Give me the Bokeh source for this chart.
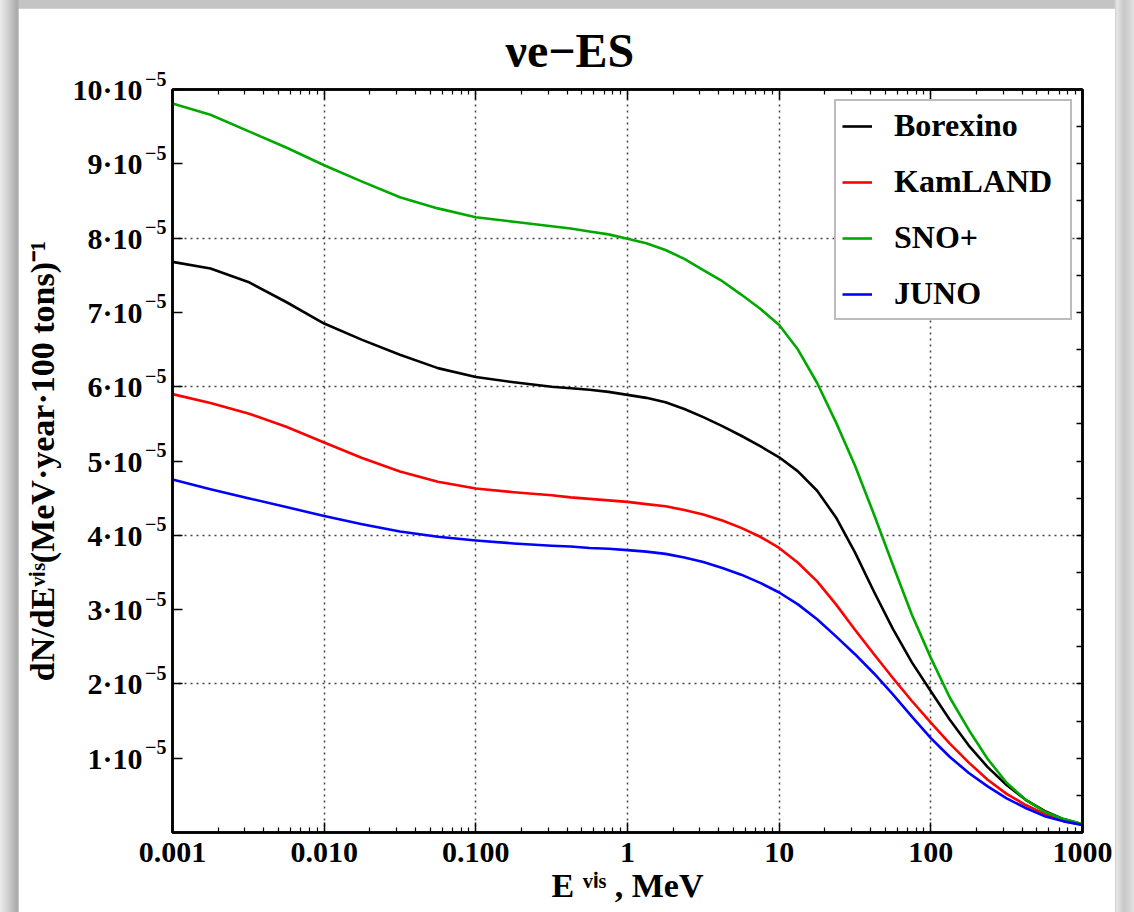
from bokeh.plotting import figure
from bokeh.models import (LogAxis, LinearAxis, FixedTicker, Legend, LegendItem,
                          Range1d)
from bokeh.layouts import column
from bokeh.embed import file_html
from bokeh.resources import INLINE

# Visible energy, MeV (log-spaced sample points)
energy_mev = [0.001, 0.00178, 0.00316, 0.00562, 0.01, 0.0178, 0.0316, 0.0562,
              0.1, 0.178, 0.316, 0.422, 0.562, 0.750, 1.0, 1.33, 1.78, 2.37,
              3.16, 4.22, 5.62, 7.50, 10.0, 13.3, 17.8, 23.7, 31.6, 42.2,
              56.2, 75.0, 100.0, 133.0, 178.0, 237.0, 316.0, 422.0, 562.0,
              750.0, 1000.0]

# Spectra in units of 1e-5 (MeV * year * 100 tons)^-1
Y_UNIT = 1e-5
borexino = [7.68, 7.59, 7.41, 7.14, 6.85, 6.63, 6.43, 6.25, 6.13, 6.06, 6.00,
            5.98, 5.96, 5.93, 5.89, 5.85, 5.79, 5.70, 5.59, 5.47, 5.34, 5.20,
            5.05, 4.86, 4.60, 4.24, 3.77, 3.24, 2.74, 2.29, 1.90, 1.52, 1.17,
            0.88, 0.64, 0.44, 0.29, 0.18, 0.11]
kamland = [5.90, 5.78, 5.64, 5.46, 5.25, 5.04, 4.86, 4.72, 4.63, 4.58, 4.54,
           4.51, 4.49, 4.47, 4.45, 4.42, 4.39, 4.34, 4.28, 4.20, 4.10, 3.98,
           3.83, 3.63, 3.38, 3.07, 2.73, 2.40, 2.08, 1.77, 1.48, 1.20, 0.94,
           0.71, 0.52, 0.37, 0.25, 0.16, 0.10]
sno_plus = [9.81, 9.66, 9.44, 9.22, 8.98, 8.76, 8.55, 8.40, 8.28, 8.22, 8.16,
            8.13, 8.09, 8.05, 7.99, 7.93, 7.84, 7.72, 7.57, 7.42, 7.24, 7.05,
            6.83, 6.50, 6.05, 5.52, 4.94, 4.28, 3.60, 2.93, 2.35, 1.82, 1.38,
            0.99, 0.67, 0.44, 0.28, 0.18, 0.11]
juno = [4.75, 4.62, 4.50, 4.38, 4.26, 4.15, 4.05, 3.98, 3.93, 3.89, 3.86,
        3.85, 3.83, 3.82, 3.80, 3.78, 3.75, 3.70, 3.64, 3.56, 3.47, 3.36,
        3.23, 3.07, 2.87, 2.64, 2.40, 2.14, 1.86, 1.56, 1.27, 1.02, 0.80,
        0.62, 0.46, 0.33, 0.22, 0.15, 0.10]

series_names = ["Borexino", "KamLAND", "SNO+", "JUNO"]
series_values = [borexino, kamland, sno_plus, juno]
series_colors = ["#000000", "#ff0000", "#00a800", "#0000ff"]

# Tick positions and labels
x_ticks = [0.001, 0.01, 0.1, 1.0, 10.0, 100.0, 1000.0]
x_tick_labels = ["0.001", "0.010", "0.100", "1", "10", "100", "1000"]
x_grid = [0.01, 0.1, 1.0, 10.0, 100.0]
y_tick_mantissas = [1, 2, 3, 4, 5, 6, 7, 8, 9, 10]
y_tick_exponent = "−5"
y_grid_mantissas = [2, 4, 6, 8]

FONT = "Liberation Serif"

y_ticks = [m * Y_UNIT for m in y_tick_mantissas]
x_minor = [m * t for t in x_ticks[:-1] for m in range(2, 10)]

p = figure(width=1097, height=904, x_axis_type="log",
           x_range=Range1d(0.001, 1000), y_range=Range1d(0, 10 * Y_UNIT),
           output_backend="svg", toolbar_location=None,
           min_border_left=154, min_border_right=33,
           min_border_top=80, min_border_bottom=80)
p.margin = (8, 19, 0, 18)
p.background_fill_color = "white"
p.border_fill_color = "white"
p.outline_line_color = "black"
p.outline_line_width = 2.5

p.title.text = "νe−ES"
p.title.text_font = FONT
p.title.text_font_size = "48px"
p.title.text_font_style = "bold"
p.title.text_color = "black"
p.title.align = "left"
p.title.offset = 333
p.title.standoff = 26

renderers = []
for vals, col in zip(series_values, series_colors):
    r = p.line(energy_mev, [v * Y_UNIT for v in vals], line_color=col,
               line_width=2.6, line_join="round")
    renderers.append(r)

# Bottom axis
xa = p.xaxis[0]
xa.ticker = FixedTicker(ticks=x_ticks, minor_ticks=x_minor)
xa.major_label_overrides = dict(zip(x_ticks, x_tick_labels))
xa.axis_label = "E ᵛⁱˢ , MeV"
xa.major_label_standoff = 10
xa.axis_label_standoff = 2

# Left side: the inner axis carries the frame ticks and the raised exponent,
# the outer axis carries the mantissas and the axis title.
ya = p.yaxis[0]
ya.ticker = FixedTicker(ticks=y_ticks)
ya.major_label_overrides = {t: y_tick_exponent + "\n " for t in y_ticks}
ya.major_label_text_font_size = "20px"
ya.major_label_text_line_height = 1.0
ya.major_label_standoff = 6

y_outer = LinearAxis(ticker=FixedTicker(ticks=y_ticks),
                     major_label_overrides={t: f"{m}·10" for m, t in
                                            zip(y_tick_mantissas, y_ticks)},
                     axis_line_color=None, major_tick_line_color=None,
                     minor_tick_line_color=None, major_tick_in=0,
                     major_tick_out=0, minor_tick_in=0, minor_tick_out=0,
                     major_label_standoff=0,
                     axis_label="dN/dEᵛⁱˢ(MeV·year·100 tons)⁻¹",
                     axis_label_standoff=8)
p.add_layout(y_outer, "left")

for ax in (xa, ya, y_outer):
    ax.major_label_text_font = FONT
    ax.major_label_text_font_style = "bold"
    ax.major_label_text_color = "black"
    ax.axis_label_text_font = FONT
    ax.axis_label_text_font_style = "bold"
    ax.axis_label_text_font_size = "34px"
    ax.axis_label_text_color = "black"
xa.major_label_text_font_size = "30px"
y_outer.major_label_text_font_size = "30px"
ya.axis_label = None

for ax in (xa, ya):
    ax.axis_line_width = 2.5
    ax.major_tick_in = 10
    ax.major_tick_out = 0
    ax.minor_tick_in = 5
    ax.minor_tick_out = 0
    ax.major_tick_line_width = 1.5
    ax.minor_tick_line_width = 1.2

# Frame ticks on the top and right sides (no labels)
top = LogAxis(ticker=FixedTicker(ticks=x_ticks, minor_ticks=x_minor),
              major_label_text_alpha=0, major_label_text_font_size="1px",
              major_label_standoff=0, axis_line_width=2.5,
              major_tick_in=10, major_tick_out=0, minor_tick_in=5,
              minor_tick_out=0, major_tick_line_width=1.5,
              minor_tick_line_width=1.2)
p.add_layout(top, "above")
right = LinearAxis(ticker=FixedTicker(ticks=[m * 0.5 * Y_UNIT for m in range(1, 20)]),
                   major_label_text_alpha=0, major_label_text_font_size="1px",
                   major_label_standoff=0, axis_line_width=2.5,
                   major_tick_in=6, major_tick_out=0, minor_tick_in=0,
                   minor_tick_out=0, major_tick_line_width=1.5)
p.add_layout(right, "right")

# Dotted grid
p.xgrid.ticker = FixedTicker(ticks=x_grid)
p.ygrid.ticker = FixedTicker(ticks=[m * Y_UNIT for m in y_grid_mantissas])
for g in (p.xgrid[0], p.ygrid[0]):
    g.grid_line_color = "#444444"
    g.grid_line_dash = "2 4"
    g.grid_line_width = 1.5

legend = Legend(items=[LegendItem(label=n, renderers=[r])
                       for n, r in zip(series_names, renderers)],
                location="top_right")
legend.label_text_font = FONT
legend.label_text_font_style = "bold"
legend.label_text_font_size = "32px"
legend.label_text_color = "black"
legend.border_line_color = "#7a7a7a"
legend.border_line_width = 2.5
legend.background_fill_alpha = 1.0
legend.margin = 10
legend.padding = 6
legend.spacing = 19
legend.glyph_width = 30
legend.glyph_height = 30
legend.label_height = 30
legend.label_width = 170
legend.label_standoff = 22
p.add_layout(legend)

page = column(p, styles={
    "background": "linear-gradient(to right, #ececec 0px, #cccccc 9px, "
                  "#a9a9a9 17px, #c4c4c4 20px, #c4c4c4 1114px, #e6e6e6 1117px, "
                  "#c6c6c6 1124px, #e2e2e2 1134px)"})

open("out.html", "w").write(file_html(page, INLINE))
